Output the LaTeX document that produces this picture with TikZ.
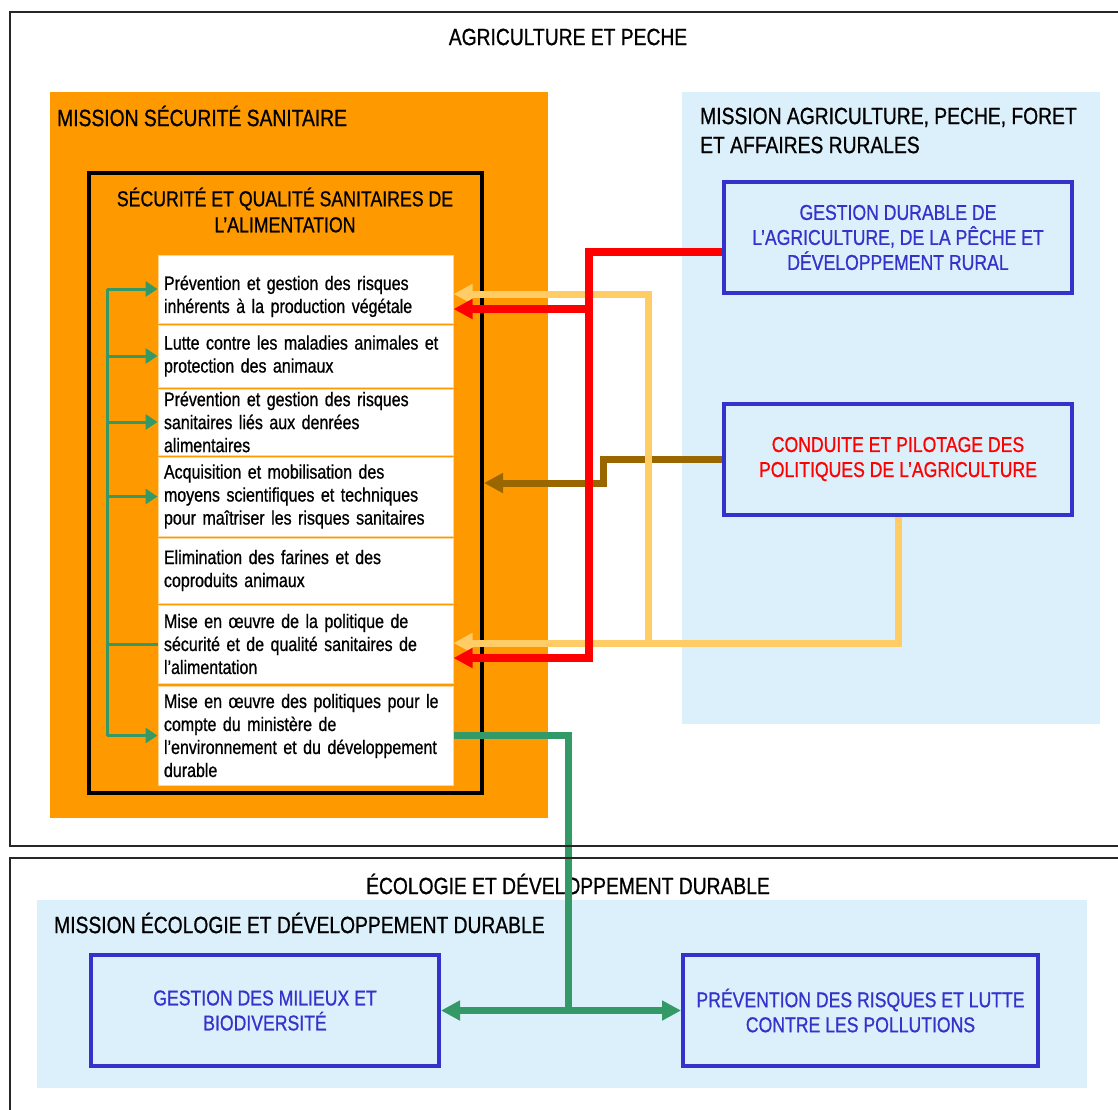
\documentclass[tikz,border=0pt]{standalone}
\usepackage{fontspec}
\setmainfont[FakeStretch=0.82,FakeBold=0.8]{Liberation Sans}
\usetikzlibrary{arrows.meta}

\definecolor{orng}{HTML}{FF9900}
\definecolor{lblue}{HTML}{DCF0FC}
\definecolor{blu}{HTML}{3333CC}
\definecolor{yel}{HTML}{FFCC66}
\definecolor{brwn}{HTML}{996600}
\definecolor{grn}{HTML}{339966}
\definecolor{rd}{HTML}{FF0000}

\begin{document}
\begin{tikzpicture}[x=1pt,y=-1pt,
	head/.style={font=\fontsize{23.5}{29}\selectfont, inner sep=0pt},
	rowbox/.style={draw=orng!40, line width=1, fill=white, text width=283pt, inner xsep=6pt, inner ysep=0pt,
		align=left, font=\fontsize{19.5}{23}\selectfont},
	progbox/.style={draw=blu, line width=4, fill=lblue, minimum width=348, minimum height=111,
		align=center, font=\fontsize{21.5}{25}\selectfont, text=blu},
	bigtip/.style={-{Triangle[length=19pt,width=19pt]}},
	smalltip/.style={-{Triangle[length=12pt,width=15pt]}}]
	\useasboundingbox (0,0) rectangle (1118,1109);

	% backgrounds of the missions
	\fill[orng] (50,92) rectangle (548,818);
	\fill[lblue] (682,92) rectangle (1100,724);
	\fill[lblue] (37,900) rectangle (1087,1088);

	\node[head] (agri) at (568,37) {AGRICULTURE ET PECHE};
	\node[head, anchor=west] (mss) at (57,116) {MISSION SÉCURITÉ SANITAIRE};
	\node[head, anchor=west, align=left] (mapa) at (700,130.5) {MISSION AGRICULTURE, PECHE, FORET\\ET AFFAIRES RURALES};

	\node[draw, line width=4, minimum width=393, minimum height=620] (blk) at (285.5,483) {};
	\node[head, align=center, font=\fontsize{21.6}{26}\selectfont] (sqsa) at (285,210) {SÉCURITÉ ET QUALITÉ SANITAIRES DE\\L’ALIMENTATION};

	\node[rowbox, minimum height=68] (r1) at (305.5,289) {\rule{0pt}{29pt}Prévention et gestion des risques\\inhérents à la production végétale};
	\node[rowbox, minimum height=62] (r2) at (305.5,356) {Lutte contre les maladies animales et\\protection des animaux};
	\node[rowbox, minimum height=66] (r3) at (305.5,422) {Prévention et gestion des risques\\sanitaires liés aux denrées\\alimentaires};
	\node[rowbox, minimum height=79] (r4) at (305.5,496.5) {Acquisition et mobilisation des\\moyens scientifiques et techniques\\pour maîtriser les risques sanitaires};
	\node[rowbox, minimum height=65] (r5) at (305.5,570.5) {Elimination des farines et des\\coproduits animaux};
	\node[rowbox, minimum height=78] (r6) at (305.5,644) {Mise en œuvre de la politique de\\sécurité et de qualité sanitaires de\\l’alimentation};
	\node[rowbox, minimum height=99] (r7) at (305.5,735.5) {Mise en œuvre des politiques pour le\\compte du ministère de\\l’environnement et du développement\\durable};

	\node[progbox] (gdar) at (898,237.5) {GESTION DURABLE DE\\L’AGRICULTURE, DE LA PÊCHE ET\\DÉVELOPPEMENT RURAL};
	\node[progbox, text=rd] (cpa) at (898,459) {CONDUITE ET PILOTAGE DES\\POLITIQUES DE L’AGRICULTURE};

	% green links inside the programme
	\draw[grn, line width=3] (r1.west -| 107,0) -- (r7.west -| 107,0);
	\foreach \r in {r1,r2,r3,r4,r7}
		\draw[grn, line width=3, smalltip] (\r.west -| 107,0) -- (\r.west);
	\draw[grn, line width=3] (r6.west -| 107,0) -- (r6.west);

	% brown, yellow and red links
	\draw[brwn, line width=7, bigtip] (cpa.west) -- (603,459) -- (603,483) -- (blk.east |- 0,483);
	\draw[yel, line width=7, bigtip] (cpa.south) -- (898,643) -- (r6.east |- 0,643);
	\draw[yel, line width=7, bigtip] (648,643) -- (648,294) -- (r1.east |- 0,294);
	\draw[rd, line width=8, bigtip] (gdar.west |- 0,252) -- (589,252) -- (589,658) -- (r6.east |- 0,658);
	\draw[rd, line width=8, bigtip] (589,309) -- (r1.east |- 0,309);

	% ecologie
	\node[head] (eco) at (568,884) {ÉCOLOGIE ET DÉVELOPPEMENT DURABLE};
	\node[head, anchor=west] (med) at (54,923) {MISSION ÉCOLOGIE ET DÉVELOPPEMENT DURABLE};
	\node[progbox] (gmb) at (265,1010.5) {GESTION DES MILIEUX ET\\BIODIVERSITÉ};
	\node[progbox, minimum width=355] (prl) at (860.5,1010.5) {PRÉVENTION DES RISQUES ET LUTTE\\CONTRE LES POLLUTIONS};

	\coordinate (gj) at (568,1010.5);
	\draw[grn, line width=7] (r7.east) -- (568,735.5) -- (gj);
	\draw[grn, line width=7, bigtip] (gj) -- (gmb.east);
	\draw[grn, line width=7, bigtip] (gj) -- (prl.west);

	% frames of the two ministries
	\draw[black!85, line width=1.5] (10,12) rectangle (1125,846);
	\draw[black!85, line width=1.5] (10,858) rectangle (1125,1120);
\end{tikzpicture}
\end{document}
